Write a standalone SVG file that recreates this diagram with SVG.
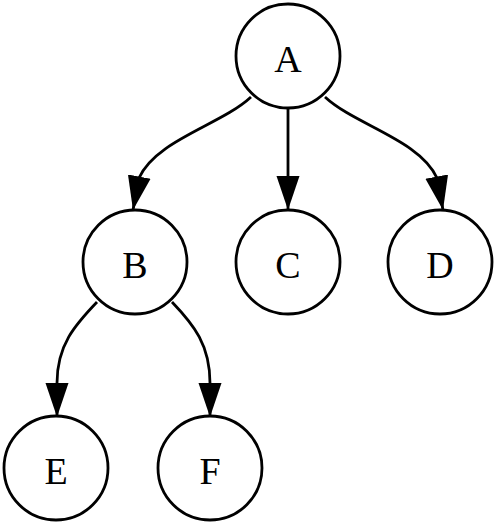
<svg xmlns="http://www.w3.org/2000/svg" width="500" height="526" viewBox="0 0 500 526">
<style>
.node circle{fill:#fff;stroke:#000;stroke-width:2.8}
.node text{font-family:"Liberation Serif","Times New Roman",serif;font-size:38px;fill:#000;text-anchor:middle}
.edge{fill:none;stroke:#000;stroke-width:2.8;marker-end:url(#arr)}
</style>
<defs>
<marker id="arr" markerUnits="userSpaceOnUse" markerWidth="36" markerHeight="26" viewBox="0 0 36 26" refX="34" refY="13" orient="auto">
<path d="M0,1.5 L34,13 L0,24.5 Z" fill="#000"/>
</marker>
</defs>
<rect width="500" height="526" fill="#fff"/>
<g id="edges">
<path class="edge" d="M251,97 C221,125 156,140 139,178 L133,210"/>
<path class="edge" d="M288,108 L288,210"/>
<path class="edge" d="M325,97 C355,125 420,140 437,178 L443,210"/>
<path class="edge" d="M97,302 C75,325 57,345 57,383 L57,417"/>
<path class="edge" d="M172,302 C194,325 210,345 210,383 L210,417"/>
</g>
<g id="node-A" class="node"><circle cx="288" cy="56" r="52"/><text x="288" y="71.5">A</text></g>
<g id="node-B" class="node"><circle cx="135" cy="262" r="52"/><text x="135" y="277.5">B</text></g>
<g id="node-C" class="node"><circle cx="288" cy="262" r="52"/><text x="288" y="277.5">C</text></g>
<g id="node-D" class="node"><circle cx="440" cy="262" r="52"/><text x="440" y="277.5">D</text></g>
<g id="node-E" class="node"><circle cx="56" cy="468" r="52"/><text x="56" y="483.5">E</text></g>
<g id="node-F" class="node"><circle cx="210" cy="468" r="52"/><text x="210" y="483.5">F</text></g>
</svg>
